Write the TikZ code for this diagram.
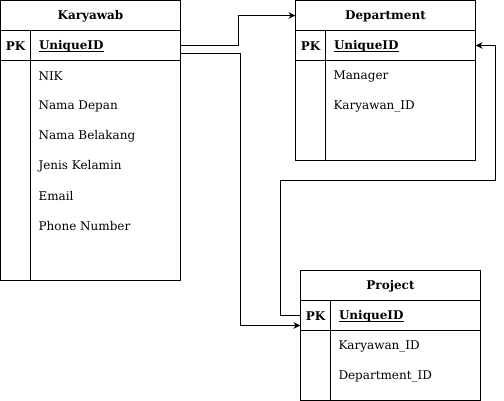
\documentclass[tikz,border=0pt]{standalone}
\usepackage{fontspec}
\setmainfont{DejaVu Serif}
\usetikzlibrary{arrows.meta}
\newcommand\myul[1]{\setbox0\hbox{#1}\rlap{\rule[-2pt]{\wd0}{0.9pt}}\box0}
\begin{document}
\begin{tikzpicture}[x=1pt,y=-1pt, line width=1pt, font=\fontsize{12}{14}\selectfont,
  cell/.style={draw, rectangle, minimum width=180pt, inner sep=0pt, outer sep=0pt, anchor=north west},
  title/.style={font=\fontsize{12}{14}\selectfont\bfseries, inner sep=0pt, yshift=-1pt},
  keytxt/.style={font=\fontsize{12}{14}\selectfont\bfseries, inner sep=0pt, yshift=-1pt},
  field/.style={anchor=west, inner sep=0pt, yshift=-1pt},
  conn/.style={draw, -{Stealth[length=7pt,width=6.5pt]}}]
\useasboundingbox (0,0) rectangle (504,401);
% Karyawab
\node[cell, minimum height=30pt] (kh) at (0.5,0.5) {};
\node[cell, minimum height=30pt] (kpk) at (0.5,30.5) {};
\node[cell, minimum height=220pt] (kb) at (0.5,60.5) {};
\draw ([xshift=30pt]kpk.north west) -- ([xshift=30pt]kb.south west);
\node[title] (kt) at (kh.center) {Karyawab};
\node[keytxt] (kpkl) at ([xshift=15pt]kpk.west) {PK};
\node[keytxt, anchor=west] (kid) at ([xshift=38pt]kpk.west) {\myul{UniqueID}};
\node[field] (k1) at (38,75.5) {NIK};
\node[field] (k2) at (38,105.5) {Nama Depan};
\node[field] (k3) at (38,135.5) {Nama Belakang};
\node[field] (k4) at (38,165.5) {Jenis Kelamin};
\node[field] (k5) at (38,195.5) {Email};
\node[field] (k6) at (38,225.5) {Phone Number};
% Department
\node[cell, minimum height=30pt] (dh) at (295.5,0.5) {};
\node[cell, minimum height=30pt] (dpk) at (295.5,30.5) {};
\node[cell, minimum height=100pt] (db) at (295.5,60.5) {};
\draw ([xshift=30pt]dpk.north west) -- ([xshift=30pt]db.south west);
\node[title] (dt) at (dh.center) {Department};
\node[keytxt] (dpkl) at ([xshift=15pt]dpk.west) {PK};
\node[keytxt, anchor=west] (did) at ([xshift=38pt]dpk.west) {\myul{UniqueID}};
\node[field] (d1) at (333,75.5) {Manager};
\node[field] (d2) at (333,105.5) {Karyawan\_ID};
% Project
\node[cell, minimum height=30pt] (ph) at (300.5,270.5) {};
\node[cell, minimum height=30pt] (ppk) at (300.5,300.5) {};
\node[cell, minimum height=70pt] (pb) at (300.5,330.5) {};
\draw ([xshift=30pt]ppk.north west) -- ([xshift=30pt]pb.south west);
\node[title] (pt) at (ph.center) {Project};
\node[keytxt] (ppkl) at ([xshift=15pt]ppk.west) {PK};
\node[keytxt, anchor=west] (pid) at ([xshift=38pt]ppk.west) {\myul{UniqueID}};
\node[field] (p1) at (338,345.5) {Karyawan\_ID};
\node[field] (p2) at (338,375.5) {Department\_ID};
% connectors
\draw[conn] (kpk.east) -- ++(58,0) |- (dh.west);
\draw[conn] ([yshift=-8pt]kpk.east) -- ++(60,0) |- ([yshift=-10pt]ppk.west);
\draw[conn] (ppk.west) -- ++(-20,0) -- ++(0,-135) -- ++(215,0) |- (dpk.east);
\end{tikzpicture}
\end{document}
